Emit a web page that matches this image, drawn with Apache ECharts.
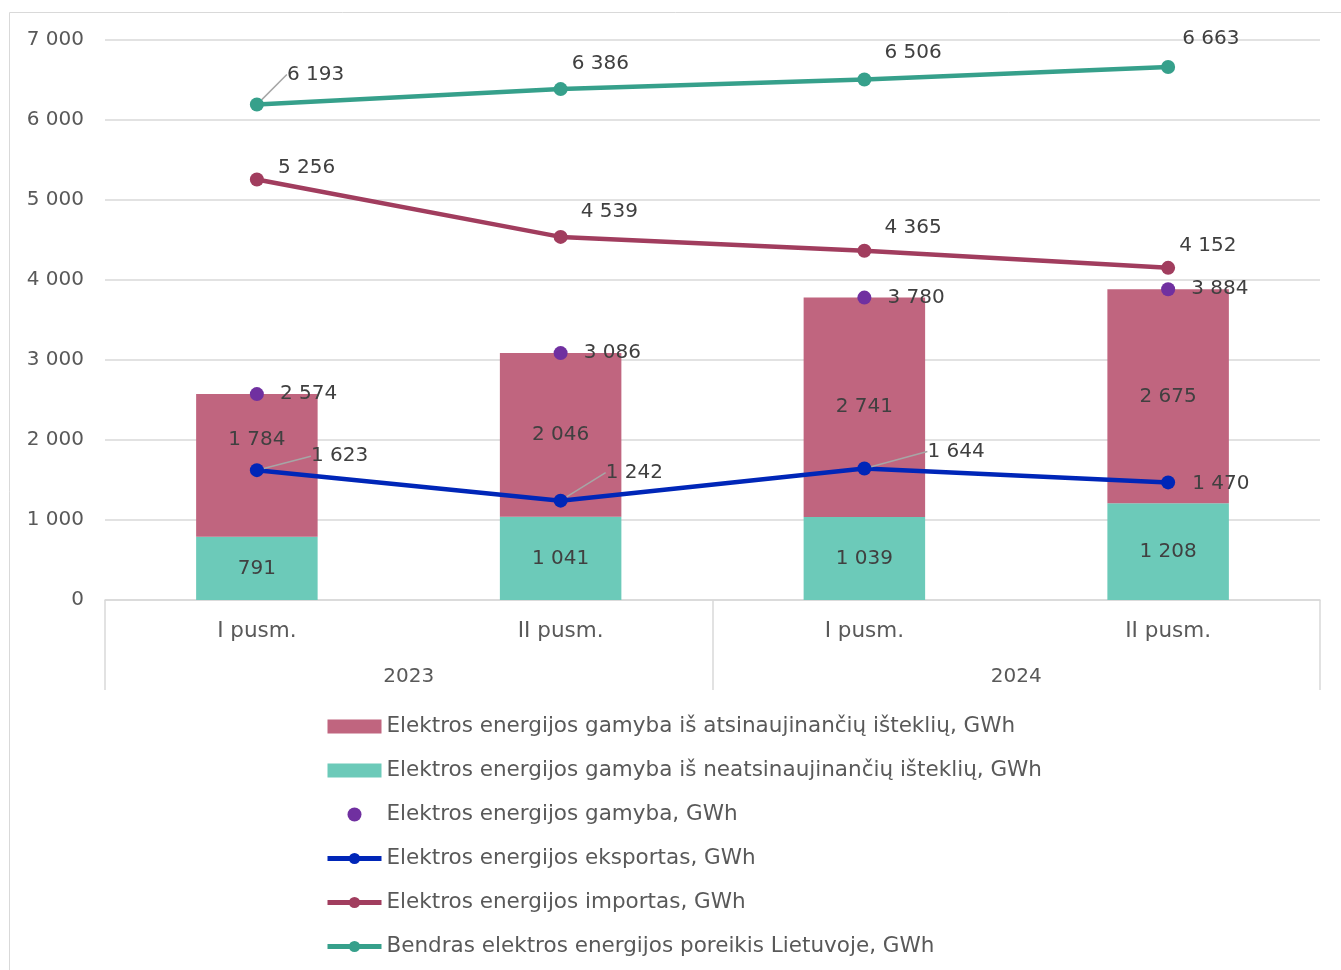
<!DOCTYPE html>
<html>
<head>
<meta charset="utf-8">
<script src="https://cdn.jsdelivr.net/npm/echarts@6/dist/echarts.min.js"></script>
<style>
html, body { margin: 0; padding: 0; background: #fff; }
#chart { width: 1341px; height: 970px; }
</style>
</head>
<body>
<div id="chart"></div>
<script>
// pusmečiai ir metai
const periods = ['I pusm.', 'II pusm.', 'I pusm.', 'II pusm.'];
const years = ['2023', '2024'];

// GWh
const nonRenewable = [791, 1041, 1039, 1208];
const renewable = [1784, 2046, 2741, 2675];
const production = [2574, 3086, 3780, 3884];
const exportVals = [1623, 1242, 1644, 1470];
const importVals = [5256, 4539, 4365, 4152];
const demand = [6193, 6386, 6506, 6663];

const yTicks = [0, 1000, 2000, 3000, 4000, 5000, 6000, 7000];

const names = [
    'Elektros energijos gamyba iš atsinaujinančių išteklių, GWh',
    'Elektros energijos gamyba iš neatsinaujinančių išteklių, GWh',
    'Elektros energijos gamyba, GWh',
    'Elektros energijos eksportas, GWh',
    'Elektros energijos importas, GWh',
    'Bendras elektros energijos poreikis Lietuvoje, GWh'
];

const FONT = '"DejaVu Sans", sans-serif';
const FS = 20;      // skaičiai
const FS_TXT = 21.5; // tekstas
const fmt = v => String(v).replace(/\B(?=(\d{3})+(?!\d))/g, ' ');

// label shifts (px) for line labels placed to the right of the point
const exportShift = [[42, -14], [33, -28], [51, -17], [12, 1]];
const importShift = [[9, -12], [8, -25], [8, -23], [-1, -22]];
const demandShift = [[18, -30], [-1, -25], [8, -27], [2, -28]];

const lineColors = ['#0026b8', '#a13d5e', '#36a08b'];

const chart = echarts.init(document.getElementById('chart'));

function lineSeries(name, values, color, shift, leaders) {
    return {
        name: name,
        type: 'line',
        data: values.map((v, i) => ({
            value: v,
            labelLine: { show: leaders.indexOf(i) >= 0 }
        })),
        symbol: 'circle',
        symbolSize: 14,
        lineStyle: { width: 4.5, color: color },
        itemStyle: { color: color },
        z: 5,
        label: {
            show: true,
            position: 'right',
            distance: 5,
            color: '#404040',
            fontSize: FS,
            fontFamily: FONT,
            formatter: p => fmt(p.value)
        },
        labelLine: { show: false, lineStyle: { color: '#a6a6a6', width: 1.5 } },
        labelLayout: p => ({ dx: shift[p.dataIndex][0], dy: shift[p.dataIndex][1] })
    };
}

const option = {
    animation: false,
    textStyle: { fontFamily: FONT },
    graphic: [{
        type: 'rect',
        shape: { x: 9.5, y: 12.5, width: 1400, height: 1000 },
        style: { fill: 'none', stroke: '#d9d9d9', lineWidth: 1 },
        silent: true
    }],
    grid: { left: 105, right: 21, top: 40, bottom: 370 },
    legend: {
        orient: 'vertical',
        left: 320,
        top: 709,
        itemWidth: 54,
        itemHeight: 14,
        itemGap: 19,
        data: names.map((n, i) => {
            if (i === 2) return { name: n, icon: 'circle' };
            if (i >= 3) return { name: n, lineStyle: { width: 5, color: lineColors[i - 3] } };
            return { name: n, icon: 'rect' };
        }),
        textStyle: { color: '#595959', fontSize: FS_TXT, fontFamily: FONT, lineHeight: 25 }
    },
    xAxis: [{
        type: 'category',
        data: periods,
        position: 'bottom',
        axisLine: { lineStyle: { color: '#d9d9d9', width: 1.5 } },
        axisTick: { show: false },
        axisLabel: { color: '#595959', fontSize: FS_TXT, fontFamily: FONT, margin: 20 }
    }, {
        type: 'category',
        data: years,
        position: 'bottom',
        axisLine: { show: false },
        axisTick: { show: true, length: 90, lineStyle: { color: '#d9d9d9', width: 1.5 } },
        axisLabel: { color: '#595959', fontSize: FS, fontFamily: FONT, margin: 67 }
    }],
    yAxis: {
        type: 'value',
        min: yTicks[0],
        max: yTicks[yTicks.length - 1],
        interval: 1000,
        axisLine: { show: false },
        axisTick: { show: false },
        splitLine: { lineStyle: { color: '#d9d9d9', width: 1.5 } },
        axisLabel: { color: '#595959', fontSize: FS, fontFamily: FONT, margin: 21, formatter: v => fmt(v) }
    },
    series: [{
        name: names[1],
        type: 'bar',
        stack: 'gamyba',
        barWidth: '40%',
        data: nonRenewable,
        itemStyle: { color: '#6ccab9' },
        label: {
            show: true, position: 'inside', color: '#404040', fontSize: FS, fontFamily: FONT,
            formatter: p => fmt(p.value)
        }
    }, {
        name: names[0],
        type: 'bar',
        stack: 'gamyba',
        data: renewable.map((v, i) => i === 0
            ? { value: v, label: { offset: [0, -26] } }
            : v),
        itemStyle: { color: '#c0657f' },
        label: {
            show: true, position: 'inside', color: '#404040', fontSize: FS, fontFamily: FONT,
            formatter: p => fmt(p.value)
        }
    }, {
        name: names[2],
        type: 'scatter',
        data: production,
        symbolSize: 14,
        itemStyle: { color: '#7030a0', opacity: 1 },
        z: 4,
        label: {
            show: true, position: 'right', distance: 16, color: '#404040', fontSize: FS, fontFamily: FONT,
            formatter: p => fmt(p.value)
        }
    },
    lineSeries(names[3], exportVals, lineColors[0], exportShift, [0, 1, 2]),
    lineSeries(names[4], importVals, lineColors[1], importShift, []),
    lineSeries(names[5], demand, lineColors[2], demandShift, [0])
    ]
};

chart.setOption(option);
</script>
</body>
</html>
